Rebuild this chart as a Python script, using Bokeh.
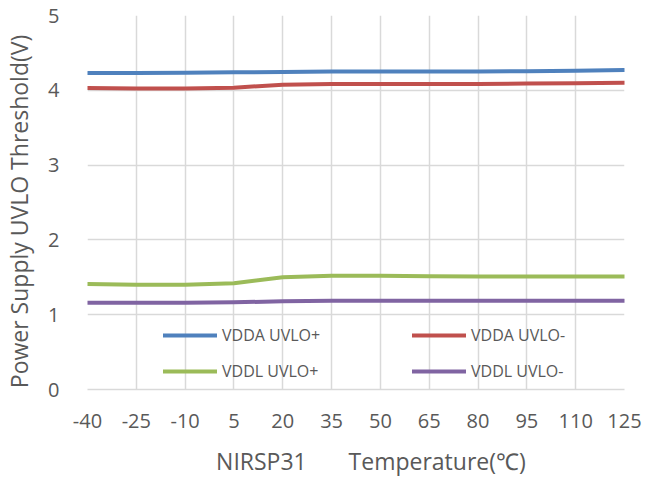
from bokeh.plotting import figure
from bokeh.models import Range1d, FixedTicker, Legend, LegendItem
from bokeh.embed import file_html
from bokeh.resources import INLINE

temps = [-40, -25, -10, 5, 20, 35, 50, 65, 80, 95, 110, 125]
temp_labels = ["-40", "-25", "-10", "5", "20", "35", "50", "65", "80", "95", "110", "125"]
vdda_uvlo_p = [4.23, 4.23, 4.235, 4.24, 4.245, 4.25, 4.25, 4.25, 4.25, 4.255, 4.26, 4.27]
vdda_uvlo_m = [4.03, 4.025, 4.025, 4.035, 4.075, 4.085, 4.085, 4.085, 4.085, 4.09, 4.095, 4.10]
vddl_uvlo_p = [1.41, 1.40, 1.40, 1.42, 1.50, 1.52, 1.52, 1.515, 1.51, 1.51, 1.51, 1.51]
vddl_uvlo_m = [1.16, 1.16, 1.16, 1.165, 1.18, 1.185, 1.185, 1.185, 1.185, 1.185, 1.185, 1.185]
y_ticks = [0, 1, 2, 3, 4, 5]
x_title = "\u00a0" * 5 + "NIRSP31" + "\u00a0" * 7 + "Temperature(\u2103)"
y_title = "Power Supply UVLO Threshold(V)" + "\u00a0" * 3

FONT = "Open Sans"
TXT = "#595959"
GRID = "#D9D9D9"

p = figure(width=641, height=475, frame_width=537, frame_height=374,
           min_border_left=77, min_border_right=27, min_border_top=15, min_border_bottom=86,
           x_range=Range1d(-40, 125), y_range=Range1d(0, 5),
           output_backend="svg", toolbar_location=None, tools="")
p.outline_line_color = None
p.background_fill_color = "white"
p.border_fill_color = "white"

p.xaxis.ticker = FixedTicker(ticks=temps)
p.xaxis.major_label_overrides = {t: s for t, s in zip(temps, temp_labels)}
p.yaxis.ticker = FixedTicker(ticks=y_ticks)
for ax in (p.xaxis[0], p.yaxis[0]):
    ax.major_label_text_font = FONT
    ax.major_label_text_font_size = "20px"
    ax.major_label_text_color = TXT
    ax.axis_label_text_font = FONT
    ax.axis_label_text_font_size = "23px"
    ax.axis_label_text_color = TXT
    ax.axis_label_text_font_style = "normal"
    ax.major_tick_line_color = None
    ax.minor_tick_line_color = None
p.xaxis.axis_line_color = GRID
p.xaxis.axis_line_width = 1.5
p.yaxis.axis_line_color = None
p.xaxis.major_label_standoff = 18
p.yaxis.major_label_standoff = 22
p.xaxis.axis_label = x_title
p.yaxis.axis_label = y_title
p.xaxis.axis_label_standoff = 14
p.yaxis.axis_label_standoff = 10

p.xgrid.grid_line_color = GRID
p.ygrid.grid_line_color = GRID
p.xgrid.grid_line_width = 1.5
p.ygrid.grid_line_width = 1.5

series = [
    ("VDDA UVLO+", vdda_uvlo_p, "#4F81BD"),
    ("VDDA UVLO-", vdda_uvlo_m, "#C0504D"),
    ("VDDL UVLO+", vddl_uvlo_p, "#9BBB59"),
    ("VDDL UVLO-", vddl_uvlo_m, "#8064A2"),
]
renderers = {}
for name, vals, col in series:
    renderers[name] = p.line(temps, vals, line_color=col, line_width=4,
                             line_join="round", line_cap="round")

order = ["VDDA UVLO+", "VDDL UVLO+", "VDDA UVLO-", "VDDL UVLO-"]
legend = Legend(items=[LegendItem(label=n, renderers=[renderers[n]]) for n in order],
                location=(76, 7), orientation="vertical", nrows=2,
                glyph_width=54, glyph_height=20, label_height=20,
                label_standoff=5, label_width=176, spacing=14,
                padding=0, margin=0,
                label_text_font=FONT, label_text_font_size="16px",
                label_text_color=TXT,
                border_line_color=None, background_fill_alpha=0)
p.add_layout(legend, "center")

open("out.html", "w").write(file_html(p, INLINE))
